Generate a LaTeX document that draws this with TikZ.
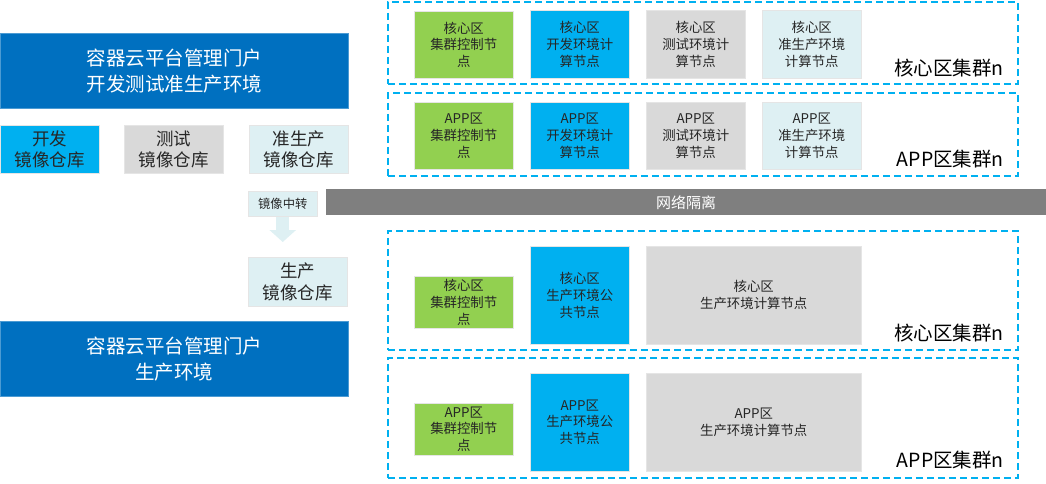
\documentclass[tikz,border=0pt]{standalone}
\usepackage{fontspec}
\setmainfont{Noto Sans CJK SC}
\usetikzlibrary{arrows.meta}

\definecolor{portalblue}{HTML}{0070C0}
\definecolor{devblue}{HTML}{00B0F0}
\definecolor{ctrlgreen}{HTML}{92D050}
\definecolor{testgray}{HTML}{D9D9D9}
\definecolor{prelight}{HTML}{DEF0F3}
\definecolor{bargray}{HTML}{7F7F7F}

\begin{document}
\begin{tikzpicture}[
  x=1pt, y=-1pt,
  base/.style={anchor=north west, inner sep=0pt, align=center, draw=white!80!gray, line width=0.5pt, text=black!85},
  portal/.style={base, fill=portalblue, draw=portalblue!70!white, text=white, minimum width=348, minimum height=75, font=\fontsize{19.5}{26}\selectfont},
  repo/.style={base, minimum width=99, minimum height=48, font=\fontsize{17.5}{21.5}\selectfont},
  cell/.style={base, minimum width=99, font=\fontsize{13.4}{16.7}\selectfont},
  cluster/.style={anchor=north west, inner sep=0pt, draw=devblue, line width=1.6pt, dash pattern=on 7pt off 4pt, minimum width=630},
  tag/.style={anchor=base east, inner sep=0pt, font=\fontsize{19.5}{22}\selectfont, text=black},
  blockarr/.style={line width=13pt, draw=prelight, -{Triangle[width=26pt, length=12pt]}, shorten >=15pt}
]
\useasboundingbox (0,0) rectangle (1046,483);

% left side: portals and image registries
\node[portal] (devportal) at (0,33) {容器云平台管理门户\\开发测试准生产环境};
\node[repo, fill=devblue] (devrepo) at (0,125) {开发\\镜像仓库};
\node[repo, fill=testgray] (testrepo) at (124,125) {测试\\镜像仓库};
\node[repo, fill=prelight] (prerepo) at (249,125) {准生产\\镜像仓库};
\node[base, fill=prelight, minimum width=69, minimum height=25, font=\fontsize{12.3}{14}\selectfont] (relay) at (248,191) {镜像中转};
\node[repo, fill=prelight, minimum height=49] (prodrepo) at (248,257) {生产\\镜像仓库};
\node[portal] (prodportal) at (0,321) {容器云平台管理门户\\生产环境};
\draw[blockarr] (relay.south) -- (relay.south |- prodrepo.north);

% network isolation bar
\node[anchor=north west, inner sep=0pt, fill=bargray, text=white, minimum width=720, minimum height=26, font=\fontsize{15}{18}\selectfont] (isolation) at (326,189) {网络隔离};

% clusters, non-production
\node[cluster, minimum height=82] (corecluster) at (387,1) {};
\node[cluster, minimum height=83] (appcluster) at (387,92) {};
\node[cell, fill=ctrlgreen, minimum height=67] (corectrl) at (414,11) {核心区\\集群控制节\\点};
\node[cell, fill=devblue, minimum height=68] (coredev) at (530,10) {核心区\\开发环境计\\算节点};
\node[cell, fill=testgray, minimum height=68] (coretest) at (646,10) {核心区\\测试环境计\\算节点};
\node[cell, fill=prelight, minimum height=68] (corepre) at (762,10) {核心区\\准生产环境\\计算节点};
\node[tag] (coretag) at (1004,75) {核心区集群n};
\node[cell, fill=ctrlgreen, minimum height=67] (appctrl) at (414,102) {APP区\\集群控制节\\点};
\node[cell, fill=devblue, minimum height=67] (appdev) at (530,102) {APP区\\开发环境计\\算节点};
\node[cell, fill=testgray, minimum height=67] (apptest) at (646,102) {APP区\\测试环境计\\算节点};
\node[cell, fill=prelight, minimum height=67] (apppre) at (762,102) {APP区\\准生产环境\\计算节点};
\node[tag] (apptag) at (1004,166) {APP区集群n};

% clusters, production
\node[cluster, minimum height=119] (coreprodcluster) at (387,230) {};
\node[cluster, minimum height=120] (appprodcluster) at (387,357) {};
\node[cell, fill=ctrlgreen, minimum height=52] (coreprodctrl) at (414,276) {核心区\\集群控制节\\点};
\node[cell, fill=devblue, minimum height=98] (coreprodpub) at (530,246) {核心区\\生产环境公\\共节点};
\node[cell, fill=testgray, minimum width=215, minimum height=98] (coreprodcalc) at (646,246) {核心区\\生产环境计算节点};
\node[tag] (coreprodtag) at (1004,340) {核心区集群n};
\node[cell, fill=ctrlgreen, minimum height=52] (appprodctrl) at (414,403) {APP区\\集群控制节\\点};
\node[cell, fill=devblue, minimum height=98] (appprodpub) at (530,373) {APP区\\生产环境公\\共节点};
\node[cell, fill=testgray, minimum width=215, minimum height=98] (appprodcalc) at (646,373) {APP区\\生产环境计算节点};
\node[tag] (appprodtag) at (1004,467) {APP区集群n};
\end{tikzpicture}
\end{document}
